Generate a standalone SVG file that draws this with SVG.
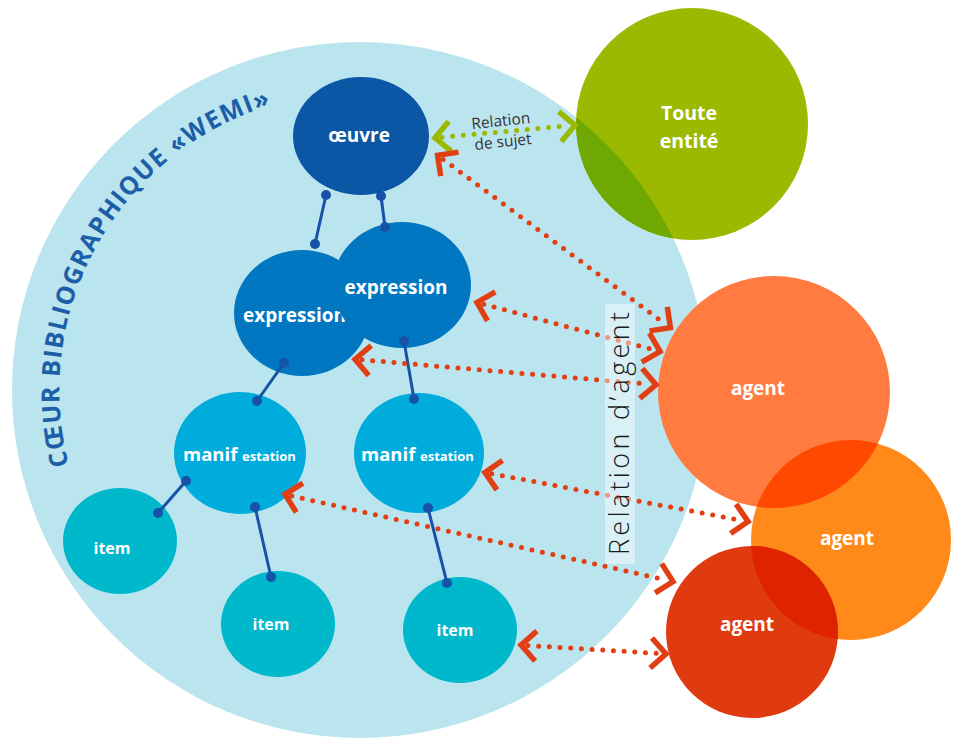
<svg xmlns="http://www.w3.org/2000/svg" width="957" height="739" viewBox="0 0 957 739">
<style>
.lbl{font-family:"Open Sans","Liberation Sans",sans-serif;font-weight:700;fill:#fff;}
.con line{stroke:#1552a8;stroke-width:3;}
.con circle{fill:#1552a8;}
.dotR{fill:none;stroke:#e23e14;stroke-width:5;stroke-linecap:round;stroke-dasharray:0 10.7;marker-start:url(#chevR);marker-end:url(#chevR);}
.dotG{fill:none;stroke:#9ab900;stroke-width:5;stroke-linecap:round;stroke-dasharray:0 10.7;marker-start:url(#chevG);marker-end:url(#chevG);}
</style>
<defs>
<marker id="chevR" markerUnits="userSpaceOnUse" viewBox="-20 -20 40 40" markerWidth="40" markerHeight="40" refX="0" refY="0" orient="auto-start-reverse" overflow="visible">
<path d="M -8 -15 L 7 0 L -8 15" fill="none" stroke="#e23e14" stroke-width="5.5"/>
</marker>
<marker id="chevG" markerUnits="userSpaceOnUse" viewBox="-20 -20 40 40" markerWidth="40" markerHeight="40" refX="0" refY="0" orient="auto-start-reverse" overflow="visible">
<path d="M -8 -15 L 7 0 L -8 15" fill="none" stroke="#9ab900" stroke-width="5.5"/>
</marker>
<clipPath id="cBig"><circle cx="360" cy="390" r="348"/></clipPath>
<clipPath id="cA1"><circle cx="774" cy="392" r="116"/></clipPath>
<clipPath id="cA2"><circle cx="851" cy="540" r="100"/></clipPath>
<path id="arc" d="M 68.9 465.1 A 298 298 0 0 1 308.3 96.5"/>
</defs>

<g id="coeur">
<circle cx="360" cy="390" r="348" fill="#bbe5ee"/>
<text font-family="'Open Sans','Liberation Sans',sans-serif" font-weight="700" font-size="25" fill="#1c5ea8" letter-spacing="1.3"><textPath href="#arc">CŒUR BIBLIOGRAPHIQUE «WEMI»</textPath></text>
</g>

<g id="toute-entite">
<circle cx="692" cy="124" r="116" fill="#9ab900"/>
<circle cx="692" cy="124" r="116" fill="#6fa800" clip-path="url(#cBig)"/>
<text class="lbl" font-size="19.5" text-anchor="middle"><tspan x="689" y="120">Toute</tspan><tspan x="689" y="148">entité</tspan></text>
</g>

<g id="oeuvre">
<ellipse cx="361" cy="136" rx="68" ry="59" fill="#0b57a6"/>
<text class="lbl" x="359" y="142" font-size="19" text-anchor="middle">œuvre</text>
</g>
<g id="expression-1">
<ellipse cx="302" cy="313" rx="68" ry="63" fill="#0077c0"/>
<text class="lbl" x="243" y="322" font-size="19">expression</text>
</g>
<g id="expression-2">
<ellipse cx="402" cy="285" rx="69" ry="63" fill="#0077c0"/>
<text class="lbl" x="396" y="294" font-size="19" text-anchor="middle">expression</text>
</g>
<g id="manifestation-1">
<ellipse cx="240" cy="453" rx="66" ry="61" fill="#00acdc"/>
<text class="lbl" x="183" y="461" font-size="18.5">manif</text>
<text class="lbl" x="242" y="461" font-size="13">estation</text>
</g>
<g id="manifestation-2">
<ellipse cx="419" cy="453" rx="65" ry="60" fill="#00acdc"/>
<text class="lbl" x="361" y="461" font-size="18.5">manif</text>
<text class="lbl" x="420" y="461" font-size="13">estation</text>
</g>
<g id="item-1">
<ellipse cx="120" cy="541" rx="57" ry="53" fill="#00b8cc"/>
<text class="lbl" x="112" y="554" font-size="16" text-anchor="middle">item</text>
</g>
<g id="item-2">
<ellipse cx="278" cy="624" rx="57" ry="53" fill="#00b8cc"/>
<text class="lbl" x="271" y="630" font-size="16" text-anchor="middle">item</text>
</g>
<g id="item-3">
<ellipse cx="460" cy="630" rx="57" ry="53" fill="#00b8cc"/>
<text class="lbl" x="455" y="636" font-size="16" text-anchor="middle">item</text>
</g>

<g id="agent-1">
<circle cx="774" cy="392" r="116" fill="#ff7b40"/>
<text class="lbl" x="758" y="395" font-size="19" text-anchor="middle">agent</text>
</g>
<g id="agent-2">
<circle cx="851" cy="540" r="100" fill="#ff8a1a"/>
<circle cx="851" cy="540" r="100" fill="#ff4800" clip-path="url(#cA1)"/>
<text class="lbl" x="847" y="545" font-size="19" text-anchor="middle">agent</text>
</g>
<g id="agent-3">
<circle cx="752" cy="632" r="86" fill="#df3a10"/>
<circle cx="752" cy="632" r="86" fill="#df2200" clip-path="url(#cA2)"/>
<text class="lbl" x="747" y="631" font-size="19" text-anchor="middle">agent</text>
</g>

<g id="connectors">
<g class="con">
<line x1="326" y1="195" x2="315" y2="244"/><circle cx="326" cy="195" r="5"/><circle cx="315" cy="244" r="5"/>
<line x1="381" y1="196" x2="385" y2="227"/><circle cx="381" cy="196" r="5"/><circle cx="385" cy="227" r="5"/>
<line x1="284" y1="363" x2="257" y2="401"/><circle cx="284" cy="363" r="5"/><circle cx="257" cy="401" r="5"/>
<line x1="404" y1="341" x2="414" y2="399"/><circle cx="404" cy="341" r="5"/><circle cx="414" cy="399" r="5"/>
<line x1="186" y1="481" x2="158" y2="513"/><circle cx="186" cy="481" r="5"/><circle cx="158" cy="513" r="5"/>
<line x1="255" y1="507" x2="271" y2="577"/><circle cx="255" cy="507" r="5"/><circle cx="271" cy="577" r="5"/>
<line x1="428" y1="508" x2="447" y2="583"/><circle cx="428" cy="508" r="5"/><circle cx="447" cy="583" r="5"/>
</g>
<path class="dotG" d="M 442 137.2 L 568 125.8"/>
<path class="dotR" d="M 443.2 159.4 L 664.8 323.6"/>
<path class="dotR" d="M 483.7 304.3 L 653.3 349.7"/>
<path class="dotR" d="M 362 359.8 L 649 384.2"/>
<path class="dotR" d="M 491.8 473.7 L 741.2 520.3"/>
<path class="dotR" d="M 291.8 496 L 666.2 580"/>
<path class="dotR" d="M 528 645.5 L 659 653.5"/>
</g>

<g id="relation-sujet-label">
<text font-family="'Open Sans','Liberation Sans',sans-serif" font-size="15.5" fill="#333" text-anchor="middle" transform="rotate(-6 502 133)"><tspan x="502" y="126">Relation</tspan><tspan x="502" y="147">de sujet</tspan></text>
</g>
<g id="relation-agent-label">
<rect x="605" y="304" width="30" height="260" fill="#fff" fill-opacity="0.45"/>
<text font-family="'Open Sans','Liberation Sans',sans-serif" font-weight="300" font-size="27" fill="#1a1a1a" transform="translate(629 555) rotate(-90)" x="0" y="0" textLength="243" lengthAdjust="spacing">Relation d’agent</text>
</g>
</svg>
